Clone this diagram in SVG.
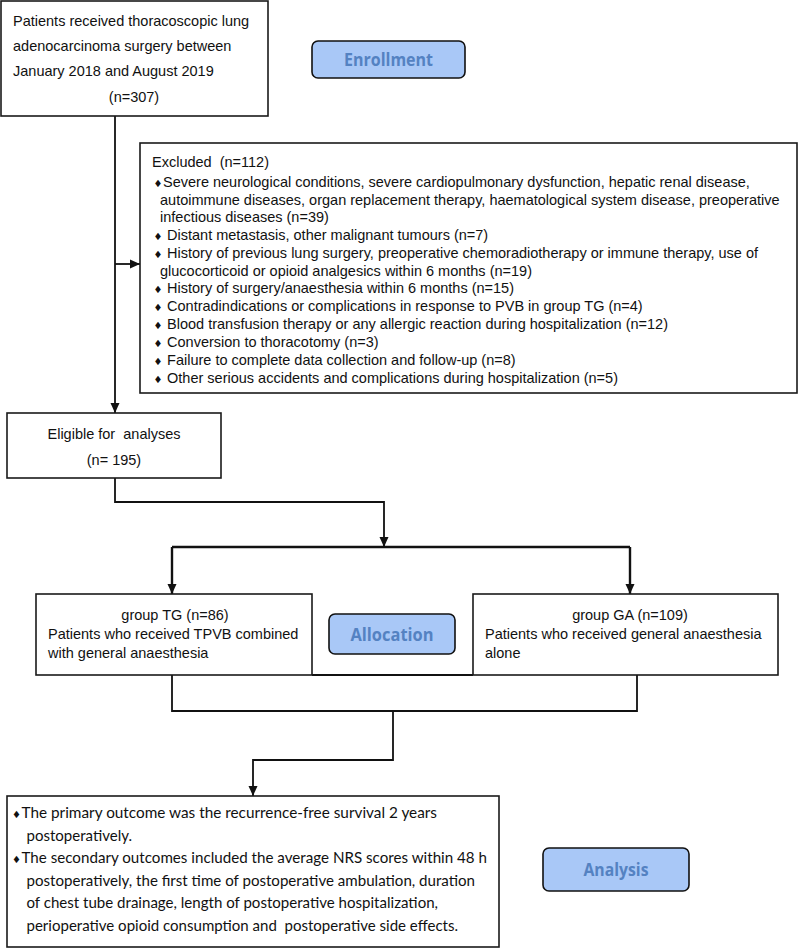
<svg xmlns="http://www.w3.org/2000/svg" width="800" height="948" viewBox="0 0 800 948">
<defs>
<style>
text{white-space:pre;fill:#111;}
.box{fill:#fff;stroke:#1a1a1a;stroke-width:1.6;}
.lab{fill:#a9c8f7;stroke:#111;stroke-width:1.6;}
.lt{font-family:"Open Sans","Noto Sans",sans-serif;font-weight:bold;font-size:18px;fill:#5482c2;text-anchor:middle;}
.a{font-family:"Liberation Sans",Arial,sans-serif;font-size:14.5px;}
.c{font-family:Lato,"Open Sans",sans-serif;font-size:16px;}
.d{font-family:"DejaVu Sans",sans-serif;font-size:10px;}
.m{text-anchor:middle;}
.ln{fill:none;stroke:#111;stroke-width:1.8;}
.lk{fill:none;stroke:#111;stroke-width:2.4;}
</style>
<marker id="ah" markerUnits="userSpaceOnUse" markerWidth="10" markerHeight="10" refX="10" refY="5" orient="auto"><path d="M0,0.5 L10,5 L0,9.5 z" fill="#111"/></marker>
</defs>
<rect width="800" height="948" fill="#fff"/>

<g id="connectors">
<path class="ln" d="M115,116 V413" marker-end="url(#ah)"/>
<path class="ln" d="M115,264 H140" marker-end="url(#ah)"/>
<path class="ln" d="M115,478 V502 H384 V547" marker-end="url(#ah)"/>
<path class="lk" d="M172,547 H630"/>
<path class="lk" d="M172,547 V594" marker-end="url(#ah)"/>
<path class="lk" d="M630,547 V594" marker-end="url(#ah)"/>
<path class="ln" d="M312,675 H473"/>
<path class="ln" d="M172,675 V711 H637 V675"/>
<path class="ln" d="M393,711 V760 H253 V796" marker-end="url(#ah)"/>
</g>

<g id="enrolled">
<rect class="box" x="1" y="1" width="267" height="115"/>
<text class="a" x="13" y="26">Patients received thoracoscopic lung</text>
<text class="a" x="13" y="51">adenocarcinoma surgery between</text>
<text class="a" x="13" y="76">January 2018 and August 2019</text>
<text class="a m" x="134" y="102">(n=307)</text>
</g>

<g id="enrollment-label">
<rect class="lab" x="312" y="41" width="153" height="37" rx="6"/>
<text class="lt" x="388.5" y="66" textLength="89" lengthAdjust="spacingAndGlyphs">Enrollment</text>
</g>

<g id="excluded">
<rect class="box" x="140" y="143" width="657" height="250"/>
<text class="a" x="152" y="167">Excluded  (n=112)</text>
<text class="a"><tspan class="d" x="153.5" y="187">♦</tspan><tspan x="163" y="187">Severe neurological conditions, severe cardiopulmonary dysfunction, hepatic renal disease,</tspan></text>
<text class="a" x="160" y="204.5">autoimmune diseases, organ replacement therapy, haematological system disease, preoperative</text>
<text class="a" x="160" y="222">infectious diseases (n=39)</text>
<text class="a"><tspan class="d" x="153.5" y="240">♦</tspan><tspan x="163" y="240"> Distant metastasis, other malignant tumours (n=7)</tspan></text>
<text class="a"><tspan class="d" x="153.5" y="258">♦</tspan><tspan x="163" y="258"> History of previous lung surgery, preoperative chemoradiotherapy or immune therapy, use of</tspan></text>
<text class="a" x="160" y="275.5">glucocorticoid or opioid analgesics within 6 months (n=19)</text>
<text class="a"><tspan class="d" x="153.5" y="293">♦</tspan><tspan x="163" y="293"> History of surgery/anaesthesia within 6 months (n=15)</tspan></text>
<text class="a"><tspan class="d" x="153.5" y="311">♦</tspan><tspan x="163" y="311"> Contradindications or complications in response to PVB in group TG (n=4)</tspan></text>
<text class="a"><tspan class="d" x="153.5" y="329">♦</tspan><tspan x="163" y="329"> Blood transfusion therapy or any allergic reaction during hospitalization (n=12)</tspan></text>
<text class="a"><tspan class="d" x="153.5" y="347">♦</tspan><tspan x="163" y="347"> Conversion to thoracotomy (n=3)</tspan></text>
<text class="a"><tspan class="d" x="153.5" y="365">♦</tspan><tspan x="163" y="365"> Failure to complete data collection and follow-up (n=8)</tspan></text>
<text class="a"><tspan class="d" x="153.5" y="382.5">♦</tspan><tspan x="163" y="382.5"> Other serious accidents and complications during hospitalization (n=5)</tspan></text>
</g>

<g id="eligible">
<rect class="box" x="7" y="413" width="214" height="65"/>
<text class="a m" x="114" y="439">Eligible for  analyses</text>
<text class="a m" x="114" y="465">(n= 195)</text>
</g>

<g id="group-tg">
<rect class="box" x="36" y="594" width="276" height="81"/>
<text class="a m" x="175" y="620">group TG (n=86)</text>
<text class="a" x="48" y="639">Patients who received TPVB combined</text>
<text class="a" x="48" y="658">with general anaesthesia</text>
</g>

<g id="allocation-label">
<rect class="lab" x="329" y="614" width="126" height="40" rx="6"/>
<text class="lt" x="392" y="640.5" textLength="83" lengthAdjust="spacingAndGlyphs">Allocation</text>
</g>

<g id="group-ga">
<rect class="box" x="473" y="594" width="305" height="81"/>
<text class="a m" x="630" y="620">group GA (n=109)</text>
<text class="a" x="485" y="639">Patients who received general anaesthesia</text>
<text class="a" x="485" y="658">alone</text>
</g>

<g id="outcomes">
<rect class="box" x="7" y="796" width="492" height="151"/>
<text class="c"><tspan class="d" x="12" y="818">♦</tspan><tspan x="21.5" y="818" textLength="415.5" lengthAdjust="spacingAndGlyphs">The primary outcome was the recurrence-free survival 2 years</tspan></text>
<text class="c" x="26.5" y="840.5" textLength="105.5" lengthAdjust="spacingAndGlyphs">postoperatively.</text>
<text class="c"><tspan class="d" x="12" y="863">♦</tspan><tspan x="21.5" y="863" textLength="465.5" lengthAdjust="spacingAndGlyphs">The secondary outcomes included the average NRS scores within 48 h</tspan></text>
<text class="c" x="26.5" y="885.5" textLength="448.5" lengthAdjust="spacingAndGlyphs">postoperatively, the first time of postoperative ambulation, duration</text>
<text class="c" x="26.5" y="908" textLength="411.5" lengthAdjust="spacingAndGlyphs">of chest tube drainage, length of postoperative hospitalization,</text>
<text class="c" x="26.5" y="930.5" textLength="431.5" lengthAdjust="spacingAndGlyphs">perioperative opioid consumption and  postoperative side effects.</text>
</g>

<g id="analysis-label">
<rect class="lab" x="543" y="848" width="146" height="43" rx="6"/>
<text class="lt" x="616" y="876" textLength="65" lengthAdjust="spacingAndGlyphs">Analysis</text>
</g>
</svg>
